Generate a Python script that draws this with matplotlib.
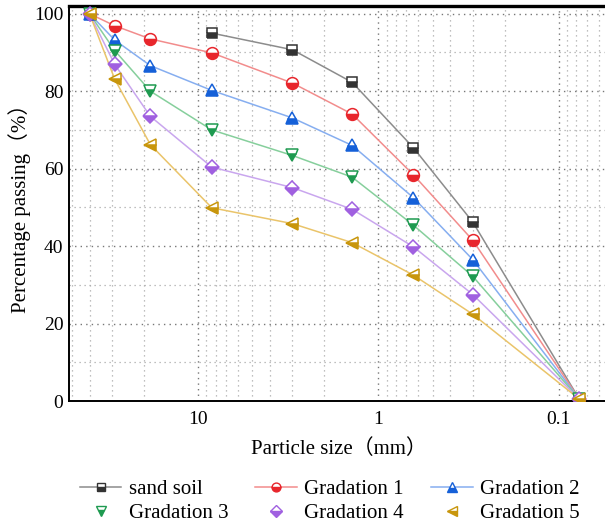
import matplotlib
matplotlib.use('Agg')
import matplotlib.pyplot as plt
from matplotlib.lines import Line2D
from matplotlib.ticker import FixedLocator, NullFormatter, MultipleLocator
import numpy as np

# particle size (mm) and percentage passing
size_mm = [40, 29, 18.4, 8.4, 3.0, 1.4, 0.64, 0.30, 0.077]
sand_soil = [np.nan, np.nan, np.nan, 95.0, 90.7, 82.3, 65.4, 46.2, 0.5]
grad1 = [100, 96.9, 93.5, 89.9, 82.1, 74.1, 58.4, 41.5, 0.5]
grad2 = [100, 93.2, 86.6, 80.2, 73.1, 66.0, 52.5, 36.5, 0.5]
grad3 = [100, 90.5, 80.0, 70.0, 63.4, 57.8, 45.4, 32.2, 0.5]
grad4 = [100, 86.9, 73.5, 60.4, 55.1, 49.5, 39.8, 27.5, 0.5]
grad5 = [100, 83.1, 66.2, 49.9, 45.8, 40.9, 32.5, 22.4, 0.5]

names = ['sand soil', 'Gradation 1', 'Gradation 2', 'Gradation 3', 'Gradation 4', 'Gradation 5']
series = [sand_soil, grad1, grad2, grad3, grad4, grad5]
line_cols = ['#8c8c8c', '#f28c8c', '#86aef0', '#86cf9c', '#c9a6ee', '#eac46a']
mark_cols = ['#333333', '#e8262c', '#1560d8', '#1e9a50', '#a060e0', '#c8960c']
markers = ['s', 'o', '^', 'v', 'D', '<']
msizes = [7, 8.5, 9, 9, 7.5, 9]

serif = ['Liberation Serif', 'Noto Sans CJK SC']

fig = plt.figure(figsize=(6.05, 5.29), dpi=100)
ax = fig.add_axes([69/605, 1 - 401/529, (609-69)/605, (401-6)/529])

handles = []
for k in range(6):
    ax.plot(size_mm, series[k], color=line_cols[k], lw=1.1, zorder=3)
    ax.plot(size_mm, series[k], linestyle='none', marker=markers[k], ms=msizes[k],
            fillstyle='bottom', markerfacecolor=mark_cols[k], markerfacecoloralt='white',
            markeredgecolor=mark_cols[k], markeredgewidth=1.1, zorder=4)
    ls = '-' if k < 3 else 'none'
    handles.append(Line2D([], [], color=line_cols[k], lw=1.1, linestyle=ls,
                          marker=markers[k], ms=msizes[k] * 0.75, fillstyle='bottom',
                          markerfacecolor=mark_cols[k], markerfacecoloralt='white',
                          markeredgecolor=mark_cols[k], markeredgewidth=1.0))

ax.set_xscale('log')
ax.set_xlim(52, 0.0527)
ax.set_ylim(0, 102)

ax.xaxis.set_major_locator(FixedLocator([10, 1, 0.1]))
ax.set_xticklabels(['10', '1', '0.1'])
minors = [m * 10.0**e for e in (-2, -1, 0, 1) for m in range(2, 10)]
ax.xaxis.set_minor_locator(FixedLocator(minors))
ax.xaxis.set_minor_formatter(NullFormatter())
ax.yaxis.set_major_locator(MultipleLocator(20))
ax.yaxis.set_minor_locator(MultipleLocator(10))

ax.grid(which='major', linestyle=(0, (1, 3)), color='#777777', lw=1.0)
ax.grid(which='minor', linestyle=(0, (1, 3)), color='#aaaaaa', lw=0.9)

ax.tick_params(which='both', length=0, labelsize=14)
ax.tick_params(axis='x', pad=7)
ax.tick_params(axis='y', pad=4)
for lab in ax.get_xticklabels() + ax.get_yticklabels():
    lab.set_fontfamily('Liberation Serif')

for s in ['left', 'bottom']:
    ax.spines[s].set_linewidth(1.4)
ax.spines['top'].set_linewidth(2.4)
ax.spines['right'].set_visible(False)

ax.set_xlabel('Particle size（mm）', fontsize=15, family=serif, labelpad=8)
ax.set_ylabel('Percentage passing（%）', fontsize=15, family=serif, labelpad=2)

order = [0, 3, 1, 4, 2, 5]
fig.legend([handles[i] for i in order], [names[i] for i in order], ncol=3,
           loc='center', bbox_to_anchor=(0.545, 0.052), frameon=False,
           prop={'family': 'Liberation Serif', 'size': 15},
           handlelength=2.0, columnspacing=1.3, handletextpad=0.35, labelspacing=0.2)

fig.savefig('out.png', dpi=100)
